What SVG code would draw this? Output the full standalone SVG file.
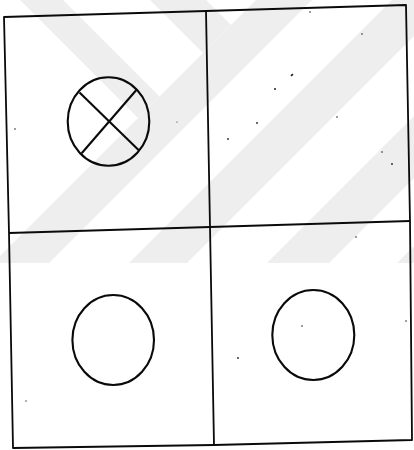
<svg xmlns="http://www.w3.org/2000/svg" width="414" height="450" viewBox="0 0 414 450">
  <style>
    .wm { fill: #eeeeee; stroke: none; }
    .grid { fill: none; stroke: #0a0a0a; stroke-width: 1.8; stroke-linejoin: round; }
    .sym { fill: none; stroke: #0a0a0a; stroke-width: 2.1; }
    .speck { fill: #222; }
  </style>
  <defs>
    <clipPath id="wmclip"><rect x="0" y="0" width="414" height="263"/></clipPath>
  </defs>
  <rect x="0" y="0" width="414" height="450" fill="#ffffff"/>
  <g id="watermark" clip-path="url(#wmclip)">
    <polygon class="wm" points="256,0 312,0 0,312 0,256"/>
    <polygon class="wm" points="392,0 450,0 0,450 0,392"/>
    <polygon class="wm" points="530,0 592,0 0,592 0,530"/>
    <polygon class="wm" points="660,0 718,0 0,718 0,660"/>
    <polygon class="wm" points="20,0 63,0 159.5,96.5 138,118"/>
    <polygon class="wm" points="150,0 206,0 231,25 203,53"/>
  </g>
  <g id="connectors">
    <polygon class="grid" points="4,17 206,11 406,5 410,221 412,440 214,445 13,448 9,233"/>
    <polyline class="grid" points="206,11 210,227 214,445"/>
    <polyline class="grid" points="9,233 210,227 410,221"/>
  </g>
  <g id="cell-top-left">
    <ellipse class="sym" cx="108.5" cy="121.5" rx="40.8" ry="44.2"/>
    <line class="sym" x1="79.5" y1="92.5" x2="138.8" y2="150.2"/>
    <line class="sym" x1="137" y1="89.3" x2="81.7" y2="153.3"/>
  </g>
  <g id="cell-top-right"></g>
  <g id="cell-bottom-left">
    <ellipse class="sym" cx="113.2" cy="340" rx="40.8" ry="45"/>
  </g>
  <g id="cell-bottom-right">
    <ellipse class="sym" cx="313.3" cy="335" rx="41" ry="45"/>
  </g>
  <g id="specks">
    <circle class="speck" cx="15" cy="129" r="0.8"/>
    <circle class="speck" cx="177" cy="122" r="0.6"/>
    <circle class="speck" cx="310" cy="12" r="0.8"/>
    <circle class="speck" cx="362" cy="34" r="0.8"/>
    <ellipse class="speck" cx="292" cy="75" rx="1.6" ry="0.9" transform="rotate(-45 292 75)"/>
    <circle class="speck" cx="275" cy="89" r="1"/>
    <circle class="speck" cx="257" cy="123" r="0.9"/>
    <circle class="speck" cx="228" cy="139" r="0.9"/>
    <circle class="speck" cx="337" cy="117" r="0.8"/>
    <circle class="speck" cx="382" cy="152" r="0.8"/>
    <circle class="speck" cx="392" cy="164" r="0.9"/>
    <circle class="speck" cx="356" cy="237" r="0.8"/>
    <circle class="speck" cx="302" cy="326" r="0.8"/>
    <circle class="speck" cx="238" cy="358" r="0.9"/>
    <circle class="speck" cx="406" cy="321" r="0.8"/>
    <circle class="speck" cx="26" cy="401" r="0.7"/>
  </g>
</svg>
